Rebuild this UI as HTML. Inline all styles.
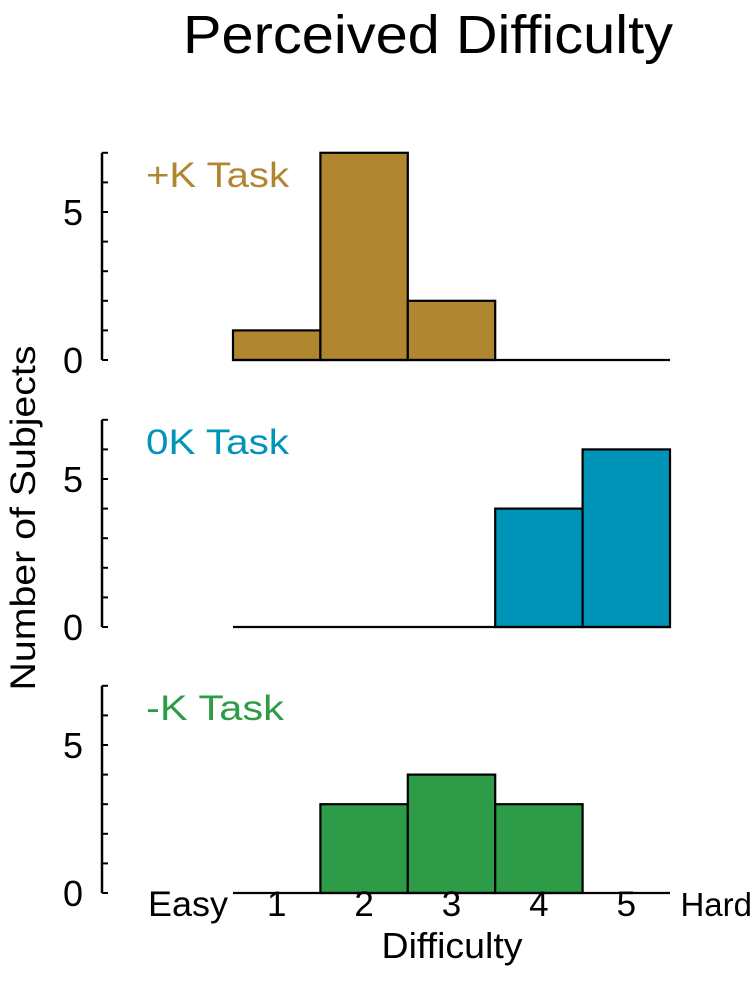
<!DOCTYPE html>
<html><head><meta charset="utf-8"><style>
body{margin:0;background:#fff}
svg text{font-family:"Liberation Sans",sans-serif}
</style></head><body>
<svg width="753" height="993" viewBox="0 0 753 993">
<text x="428" y="53" font-size="54" text-anchor="middle" textLength="490" lengthAdjust="spacingAndGlyphs">Perceived Difficulty</text>
<text transform="translate(35,518) rotate(-90)" font-size="35" text-anchor="middle" textLength="345" lengthAdjust="spacingAndGlyphs">Number of Subjects</text>
<g id="plots"></g>
<g id="xlabels"></g>
<text x="452" y="958" font-size="36" text-anchor="middle" textLength="141" lengthAdjust="spacingAndGlyphs">Difficulty</text>
</svg>
<script>
const categories=["1","2","3","4","5"];
const plusK=[1,7,2,0,0];
const zeroK=[0,0,0,4,6];
const minusK=[0,3,4,3,0];
const panelNames=["+K Task","0K Task","-K Task"];
const yTickLabels=["0","5"];
const series=[plusK,zeroK,minusK];
const colors=["#b08630","#0094b8","#2e9b48"];
const baselines=[360,627,893];
const unit=29.6,x0=233,bw=87.4,axisX=102,yMax=7;
const NS="http://www.w3.org/2000/svg";
const plots=document.getElementById('plots');
function mk(t,a,p){const e=document.createElementNS(NS,t);for(const k in a)e.setAttribute(k,a[k]);p.appendChild(e);return e;}
const xScale=i=>x0+i*bw;
const labelWidths=[143,143,138];
series.forEach((vals,p)=>{
  const b=baselines[p];const yS=v=>b-v*unit;
  const g=mk('g',{},plots);
  
  
  const ax=mk('line',{x1:axisX,x2:axisX,y1:yS(yMax),y2:b,stroke:'#000','stroke-width':2.5},g);
  
  
  for(let t=0;t<=yMax;t++){
    const tk=mk('line',{x1:axisX,x2:axisX+6,y1:yS(t),y2:yS(t),stroke:'#000','stroke-width':2},g);
    
    
  }
  yTickLabels.forEach(l=>{
    const tx=mk('text',{x:83,y:yS(+l)+13,'font-size':36,'text-anchor':'end'},g);tx.textContent=l;
    
    
  });
  const lb=mk('text',{x:146,y:yS(yMax)+34,'font-size':35,fill:colors[p],textLength:labelWidths[p],lengthAdjust:'spacingAndGlyphs'},g);lb.textContent=panelNames[p];
  
  
  vals.forEach((v,i)=>{
    if(v>0){
      const r=mk('rect',{x:xScale(i),y:yS(v),width:bw,height:v*unit,fill:colors[p],stroke:'#000','stroke-width':2.2},g);
      
      
    }
  });
  const bl=mk('line',{x1:xScale(0),x2:xScale(categories.length),y1:b,y2:b,stroke:'#000','stroke-width':2.2},g);
  
  
});
const xl=document.getElementById('xlabels');
const xlabs=["Easy"].concat(categories).concat(["Hard"]);
xlabs.forEach((l,j)=>{
  let x=xScale(j-1)+bw/2;
  const a={y:916,'font-size':35,'text-anchor':'middle'};
  if(j===0){x=188;a.textLength=80;a.lengthAdjust='spacingAndGlyphs';}
  if(j===xlabs.length-1){x=752;a['text-anchor']='end';a['font-size']=33;}
  a.x=x;
  const t=mk('text',a,xl);t.textContent=l;
  
  
});
</script>
</body></html>
